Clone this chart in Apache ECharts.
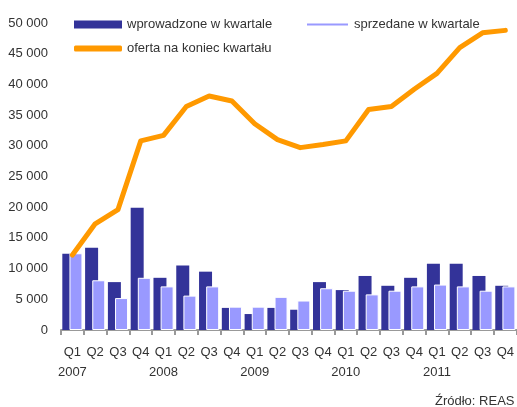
<!DOCTYPE html>
<html><head><meta charset="utf-8">
<script src="https://cdn.jsdelivr.net/npm/echarts@6/dist/echarts.min.js"></script>
<style>html,body{margin:0;padding:0;background:#fff}#c{width:517px;height:407px}</style>
</head><body><div id="c"></div>
<script>
const quarters = ['Q1','Q2','Q3','Q4','Q1','Q2','Q3','Q4','Q1','Q2','Q3','Q4','Q1','Q2','Q3','Q4','Q1','Q2','Q3','Q4'];
const years = ['2007','','','','2008','','','','2009','','','','2010','','','','2011','','',''];
const wprowadzone = [12400,13400,7800,19900,8500,10500,9500,3600,2600,3600,3300,7800,6500,8800,7200,8500,10800,10800,8800,7200];
const sprzedane = [12500,8100,5200,8500,7100,5600,7100,3800,3800,5400,4800,6800,6400,5800,6400,7100,7400,7100,6400,7100];
const oferta = [12200,17300,19600,30800,31700,36400,38100,37300,33600,31000,29700,30200,30800,35900,36400,39200,41800,46000,48400,48800];
const yTicks = { min: 0, max: 50000, interval: 5000 };

const chart = echarts.init(document.getElementById('c'));
const font = 'Liberation Sans, Arial, sans-serif';
const cats = quarters.map((q, i) => q + '|' + years[i]);
chart.setOption({
  animation: false,
  textStyle: { fontFamily: font },
  grid: { left: 61, right: 0, top: 23, bottom: 77, containLabel: false },
  legend: [
    { data: ['wprowadzone w kwartale'], left: 69, top: 13, itemWidth: 48, itemHeight: 8, icon: 'rect',
      textStyle: { fontSize: 13, color: '#333', fontFamily: font }, itemGap: 4 },
    { data: ['sprzedane w kwartale'], left: 300, top: 13, itemWidth: 43, itemHeight: 4, icon: 'rect',
      textStyle: { fontSize: 13, color: '#333', fontFamily: font } },
    { data: [{ name: 'oferta na koniec kwartału', itemStyle: { color: '#FF9900' } }], left: 69, top: 37, itemWidth: 48, itemHeight: 6, icon: 'roundRect',
      textStyle: { fontSize: 13, color: '#333', fontFamily: font } }
  ],
  xAxis: {
    type: 'category', data: cats, boundaryGap: true,
    axisLine: { lineStyle: { color: '#999', width: 2 } },
    axisTick: { show: true, length: 5, lineStyle: { color: '#999', width: 2 }, interval: 0 },
    axisLabel: {
      interval: 0, margin: 12, color: '#333', fontSize: 13, lineHeight: 20,
      formatter: v => { const p = v.split('|'); return p[0] + '\n' + (p[1] || ' '); }
    }
  },
  yAxis: {
    type: 'value', min: yTicks.min, max: yTicks.max, interval: yTicks.interval,
    splitLine: { show: false }, axisLine: { show: false }, axisTick: { show: false },
    axisLabel: { color: '#333', fontSize: 13, margin: 13,
      formatter: v => String(v).replace(/\B(?=(\d{3})+(?!\d))/g, ' ') }
  },
  series: [
    { name: 'wprowadzone w kwartale', type: 'bar', data: wprowadzone, barWidth: 13, barGap: '-45%',
      itemStyle: { color: '#333399' } },
    { name: 'sprzedane w kwartale', type: 'bar', data: sprzedane, barWidth: 13,
      itemStyle: { color: '#9999FF', borderColor: '#fff', borderWidth: 1 } },
    { name: 'oferta na koniec kwartału', type: 'line', data: oferta, showSymbol: false, symbol: 'none',
      lineStyle: { color: '#FF9900', width: 5, cap: 'round', join: 'round' }, itemStyle: { color: '#FF9900' }, z: 5 }
  ],
  graphic: [
    { type: 'text', left: 435, top: 395, style: { text: 'Źródło: REAS', fontSize: 13, fill: '#333', fontFamily: font } }
  ]
});
</script></body></html>
